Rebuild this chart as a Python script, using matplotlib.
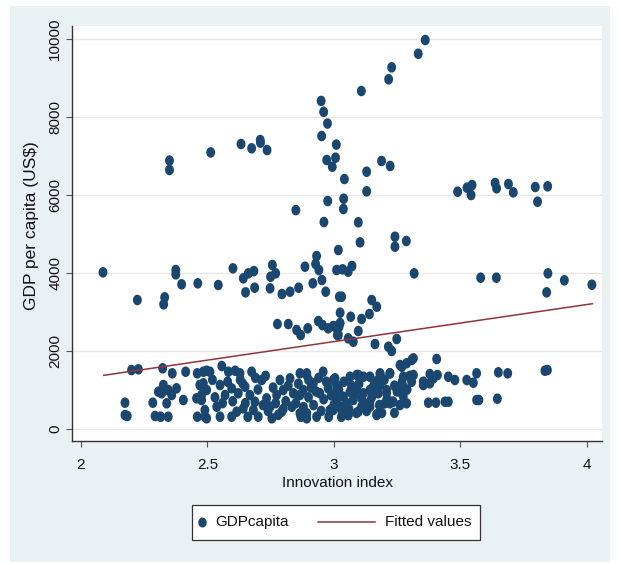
import matplotlib
matplotlib.use("Agg")
import numpy as np
import matplotlib.pyplot as plt
from matplotlib.patches import Rectangle
from matplotlib.lines import Line2D

plt.rcParams['font.family'] = ['Liberation Sans', 'DejaVu Sans']

# ---- data ----
pts_high = [
    (2.95, 8400), (2.96, 8120), (2.975, 7820), (2.952, 7500), (3.01, 7280), (2.972, 6885),
    (3.007, 6944), (2.994, 6713), (2.35, 6870), (2.35, 6630), (2.513, 7080), (2.633, 7295),
    (2.675, 7185), (2.709, 7397), (2.71, 7330), (2.736, 7140), (2.85, 5600), (2.976, 5833),
    (2.961, 5295), (3.362, 9962), (3.334, 9610), (3.229, 9261), (3.217, 8954), (3.109, 8654),
    (3.042, 6397), (3.13, 6585), (3.13, 6082), (3.189, 6860), (3.223, 6731), (3.039, 5892),
    (3.038, 5628), (3.097, 5287), (3.49, 6072), (3.527, 6174), (3.547, 6244), (3.543, 5987),
    (3.638, 6295), (3.644, 6159), (3.691, 6269), (3.71, 6056), (3.797, 6192), (3.846, 6210),
    (3.806, 5815),
]
pts_mid = [
    (2.087, 4005), (2.375, 4064), (2.375, 3954), (2.223, 3295), (2.331, 3364), (2.327, 3185),
    (2.398, 3697), (2.462, 3723), (2.543, 3679), (2.601, 4107), (2.642, 3851), (2.662, 3979),
    (2.684, 4038), (2.651, 3492), (2.687, 3610), (2.757, 4192), (2.770, 3979), (2.750, 3892),
    (2.748, 3595), (2.795, 3449), (2.827, 3508), (2.861, 3610), (2.886, 4149), (2.932, 4423),
    (2.928, 4218), (2.941, 4064), (2.917, 3723), (2.953, 3808), (2.968, 3508), (3.018, 4577),
    (3.011, 4064), (3.022, 3379), (2.777, 2679), (2.82, 2679), (2.853, 2526), (2.869, 2397),
    (2.897, 2569), (2.939, 2756), (2.955, 2654), (2.978, 2569), (3.005, 2610), (3.014, 2397),
    (3.104, 4774), (3.242, 4918), (3.242, 4662), (3.287, 4808), (3.035, 4082), (3.057, 4021),
    (3.072, 4167), (3.318, 3979), (3.581, 3867), (3.643, 3867), (3.847, 3979), (3.912, 3800),
    (4.021, 3687), (3.842, 3492), (3.031, 3379), (3.150, 3295), (3.170, 3123), (3.141, 2936),
    (3.110, 2808), (3.025, 2969), (3.067, 2867), (3.021, 2610), (2.998, 2628), (3.097, 2500),
    (3.018, 2397), (3.057, 2313), (3.077, 2226), (3.163, 2167), (3.216, 2097), (3.229, 1987),
    (3.249, 2295), (3.025, 2705),
]
pts_low = [
    (3.308, 1756), (3.315, 1800), (3.407, 1782), (3.651, 1441), (3.688, 1415), (3.835, 1482),
    (3.845, 1500), (3.565, 731), (3.574, 731), (3.647, 764), (3.374, 662), (3.404, 662),
    (3.44, 687), (3.453, 687), (3.526, 1244), (3.552, 1174), (3.565, 1415), (3.453, 1328),
    (3.479, 1244), (3.38, 1397), (3.41, 1372), (3.354, 1200), (3.38, 1159), (3.262, 603),
    (3.269, 903), (3.262, 1072), (3.308, 1200), (3.301, 1328), (3.269, 1585), (3.222, 1415),
    (3.183, 1397), (3.176, 1244), (3.156, 1072), (3.17, 364), (3.143, 687), (3.117, 903),
    (3.104, 1328), (3.11, 559), (3.057, 346), (3.031, 474), (3.011, 731), (2.998, 1244),
    (2.998, 474), (3.077, 731), (3.091, 987), (3.064, 1328), (3.091, 1372), (3.143, 1328),
    (3.183, 1115), (3.209, 903), (3.202, 646), (3.229, 687), (3.275, 1328), (3.315, 1372),
    (3.394, 1287), (3.275, 1072), (3.288, 646), (3.354, 1115),
    (2.2, 1500), (2.227, 1518), (2.323, 1544), (2.361, 1415), (2.414, 1456), (2.46, 1415),
    (2.484, 1456), (2.497, 1482), (2.174, 662), (2.174, 346), (2.183, 321), (2.284, 662),
    (2.293, 321), (2.315, 303), (2.345, 303), (2.326, 1115), (2.319, 903), (2.345, 987),
    (2.359, 859), (2.378, 1031), (2.339, 646), (2.306, 944), (2.405, 731), (2.457, 774),
    (2.47, 1115), (2.477, 859), (2.46, 303), (2.49, 303),
    (2.51, 1456), (2.557, 1603), (2.583, 1456), (2.61, 1482), (2.629, 1415), (2.675, 1456),
    (2.715, 1244), (2.787, 1244), (2.827, 1287), (2.866, 1415), (2.893, 1372), (2.497, 987),
    (2.55, 1115), (2.57, 859), (2.596, 1031), (2.622, 903), (2.649, 1072), (2.668, 859),
    (2.688, 687), (2.734, 774), (2.774, 859), (2.8, 987), (2.84, 903), (2.866, 859),
    (2.49, 474), (2.497, 262), (2.537, 559), (2.55, 303), (2.596, 303), (2.616, 431),
    (2.642, 517), (2.682, 474), (2.701, 303), (2.748, 559), (2.755, 262), (2.794, 431),
    (2.834, 559), (2.866, 390), (2.893, 262), (2.484, 1159), (2.477, 731),
    (2.893, 1415), (2.958, 1456), (3.005, 1287), (3.097, 1372), (3.117, 1328), (3.183, 1415),
    (3.222, 1415), (3.262, 1628), (3.288, 1672), (2.879, 987), (2.919, 1159), (2.945, 903),
    (2.978, 1031), (3.011, 1115), (3.038, 815), (3.064, 944), (3.11, 774), (3.143, 987),
    (3.176, 903), (3.209, 987), (3.235, 687), (3.275, 815), (2.893, 390), (2.932, 303),
    (2.985, 474), (3.025, 559), (3.057, 346), (3.097, 431), (3.143, 559), (3.17, 346),
    (3.222, 646),
    (2.52, 1250), (2.53, 800), (2.56, 650), (2.58, 1200), (2.60, 700), (2.63, 1250),
    (2.65, 650), (2.66, 300), (2.70, 1000), (2.72, 600), (2.73, 1350), (2.76, 1050),
    (2.77, 650), (2.78, 350), (2.81, 700), (2.82, 1100), (2.85, 650), (2.86, 1150),
    (2.88, 550), (2.90, 800), (2.91, 1050), (2.92, 600), (2.94, 1300), (2.95, 450),
    (2.96, 750), (2.97, 1200), (2.99, 850), (3.00, 600), (3.02, 1000), (3.03, 300),
    (3.04, 1200), (3.05, 650), (3.06, 500), (3.07, 1100), (3.08, 850), (3.09, 400),
    (3.10, 1150), (3.12, 600), (3.13, 450), (3.15, 800), (3.16, 1200), (3.18, 600),
    (3.19, 400), (3.20, 1250), (3.21, 750), (3.24, 1100), (3.25, 950), (3.27, 1200),
    (3.29, 1000), (3.30, 1350), (3.24, 400), (2.93, 950), (2.98, 300), (3.01, 950),
    (2.90, 1250), (2.87, 300), (2.80, 500), (2.74, 450), (2.69, 1300), (2.64, 1150),
]
innovation = [p[0] for p in pts_high + pts_mid + pts_low]
gdp_capita = [p[1] for p in pts_high + pts_mid + pts_low]

fit_x = [2.09, 4.023]
fit_y = [1364, 3200]

x_ticks = [2, 2.5, 3, 3.5, 4]
x_tick_labels = ['2', '2.5', '3', '3.5', '4']
y_ticks = [0, 2000, 4000, 6000, 8000, 10000]
y_tick_labels = ['0', '2000', '4000', '6000', '8000', '10000']

NAVY = '#1A476F'
MAROON = '#90353B'
BG = '#EAF1F3'

# slightly tall elliptical dot, as in the reference
_t = np.linspace(0, 2 * np.pi, 40)
ELL = list(zip(0.84 * np.cos(_t), np.sin(_t)))

W, H = 618, 564
fig = plt.figure(figsize=(W / 100, H / 100), dpi=100)
fig.patch.set_facecolor('white')
fig.add_artist(Rectangle((10 / W, 1 - 562 / H), 600 / W, 556 / H, transform=fig.transFigure,
                         facecolor=BG, edgecolor='none', zorder=-10))

ax = fig.add_axes([72 / W, 1 - 441 / H, 530 / W, 415 / H])
ax.set_facecolor('white')
ax.scatter(innovation, gdp_capita, s=58, marker=ELL, color=NAVY, edgecolors='none', zorder=3)
ax.plot(fit_x, fit_y, color=MAROON, lw=1.1, zorder=4)

ax.set_xlim(1.9644, 4.061)
ax.set_ylim(-320, 10321)
ax.set_xticks(x_ticks)
ax.set_xticklabels(x_tick_labels)
ax.set_yticks(y_ticks)
ax.set_yticklabels(y_tick_labels, rotation=90, va='center')
ax.tick_params(axis='both', length=4, width=0.8, color='#555555', labelsize=11, labelcolor='#111111')
ax.tick_params(axis='x', pad=8)
ax.tick_params(axis='y', pad=3)
ax.yaxis.grid(True, color='#E8E8E8', lw=1)
ax.set_axisbelow(True)
for s in ['top', 'right']:
    ax.spines[s].set_visible(False)
for s in ['left', 'bottom']:
    ax.spines[s].set_color('#333333')
    ax.spines[s].set_linewidth(1.0)

ax.set_xlabel('Innovation index', fontsize=11, color='#111111')
ax.xaxis.set_label_coords(0.5, -0.084)
ax.set_ylabel(r'GDP per capita (US\$)', fontsize=12.5, color='#111111')
ax.yaxis.set_label_coords(-0.062, 0.52)

# legend drawn by hand
fig.add_artist(Rectangle((192 / W, 1 - 540 / H), 288 / W, 35 / H, transform=fig.transFigure,
                         facecolor='white', edgecolor='#333333', lw=0.9, zorder=5))
ly = 1 - 522 / H
fig.add_artist(Line2D([202 / W], [ly], marker=ELL, markersize=7.2, color=NAVY,
                      markeredgecolor='none', linestyle='none', transform=fig.transFigure, zorder=6))
fig.text(215 / W, ly, 'GDPcapita', fontsize=11, va='center', ha='left', color='#111111', zorder=6)
fig.add_artist(Line2D([318 / W, 375 / W], [ly, ly], color=MAROON, lw=1.1,
                      transform=fig.transFigure, zorder=6))
fig.text(385 / W, ly, 'Fitted values', fontsize=11, va='center', ha='left', color='#111111', zorder=6)

fig.savefig('out.png', dpi=100)
